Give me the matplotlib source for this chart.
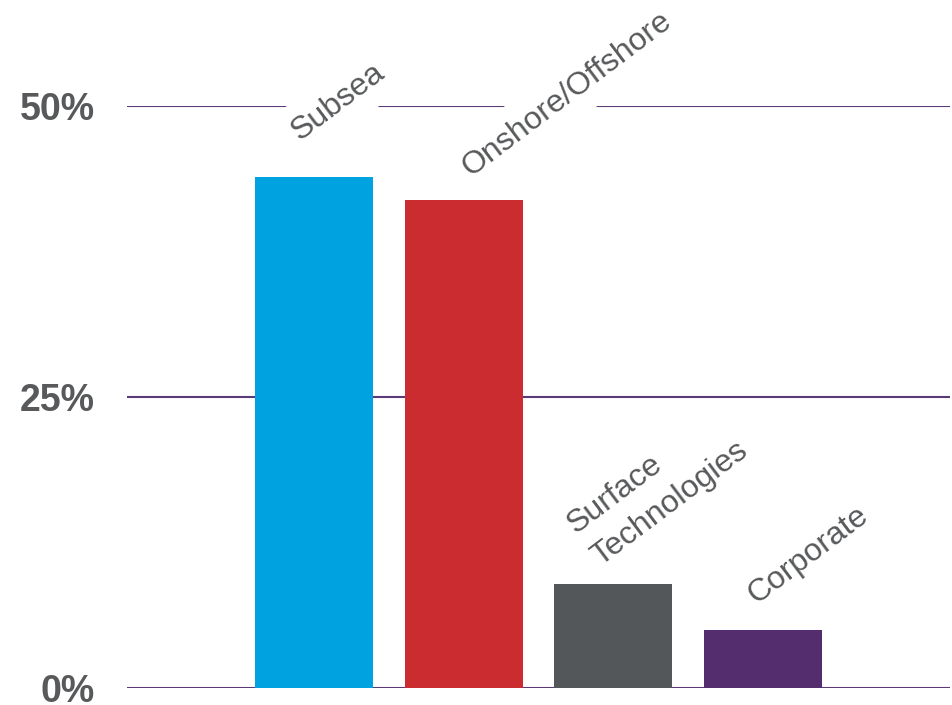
import numpy as np
import matplotlib
matplotlib.use('Agg')
import matplotlib.pyplot as plt

plt.rcParams['font.family'] = ['Liberation Sans', 'DejaVu Sans']

segments = ['Subsea', 'Onshore/Offshore', 'Surface\nTechnologies', 'Corporate']
share = [43.9, 41.9, 8.9, 5.0]
colors = ['#00A3E0', '#CB2C30', '#54575A', '#532D6D']
ticks = [0, 25, 50]
tick_labels = ['0%', '25%', '50%']

# label offsets (points) from bar top-centre, hand tuned
offsets = [(-10, 26), (5, 17), (-14, 19), (-5, 18)]
boxed = [True, True, False, False]   # white box breaks the 50% line

grey = '#58595B'
purple = '#5B3A78'

fig = plt.figure(figsize=(9.53, 7.05), dpi=100)
ax = fig.add_axes([0.1333, 0.0241, 0.8636, 0.8255])

x = np.arange(len(segments))
ax.bar(x, share, width=0.787, color=colors, zorder=2)

for yv in ticks:
    ax.axhline(yv, color=purple, lw=1.5, zorder=1)

for i, (lab, v) in enumerate(zip(segments, share)):
    bb = dict(boxstyle='square,pad=0.4', fc='white', ec='none') if boxed[i] else None
    ax.annotate(lab, xy=(i, v), xytext=offsets[i], textcoords='offset points',
                rotation=37, rotation_mode='anchor', ha='left', va='baseline',
                multialignment='left', fontsize=23, color=grey, zorder=3,
                linespacing=1.45, bbox=bb, annotation_clip=False)

ax.set_xlim(-1.247, 4.247)
ax.set_ylim(0, 50)
ax.set_yticks(ticks)
ax.set_yticklabels(tick_labels, fontsize=27, fontweight='bold', color=grey)
ax.tick_params(axis='y', length=0, pad=23)
ax.set_xticks([])
for s in ax.spines.values():
    s.set_visible(False)

plt.savefig('out.png', dpi=100)
